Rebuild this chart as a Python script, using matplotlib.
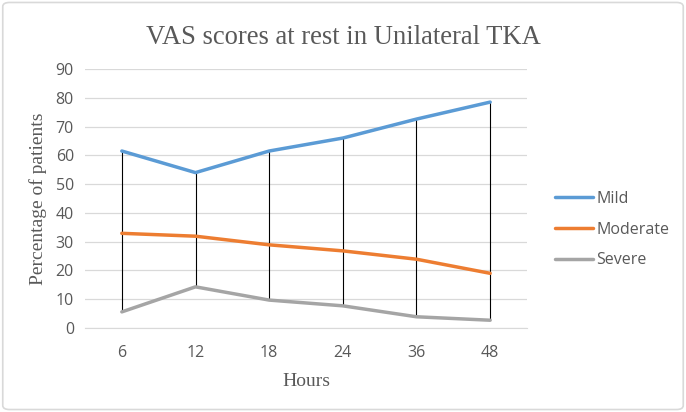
import matplotlib
matplotlib.use("Agg")
import matplotlib.pyplot as plt
from matplotlib.patches import FancyBboxPatch
import numpy as np

hours = ["6", "12", "18", "24", "36", "48"]
mild = [61.5, 54.0, 61.5, 66.0, 72.6, 78.5]
moderate = [32.9, 31.9, 28.9, 26.8, 23.9, 19.0]
severe = [5.6, 14.3, 9.7, 7.7, 3.9, 2.7]
yticks = [0, 10, 20, 30, 40, 50, 60, 70, 80, 90]

grey = "#595959"
fig = plt.figure(figsize=(6.86, 4.12), dpi=100)
ax = fig.add_axes([85/686, 1-328/412, (527-85)/686, (328-69)/412])

x = np.arange(len(hours))
data = np.array([mild, moderate, severe])
ax.vlines(x, data.min(axis=0), data.max(axis=0), color="black", lw=0.8, zorder=2)
ax.plot(x, mild, color="#5B9BD5", lw=2.5, label="Mild", zorder=3, solid_capstyle="round")
ax.plot(x, moderate, color="#ED7D31", lw=2.5, label="Moderate", zorder=3, solid_capstyle="round")
ax.plot(x, severe, color="#A5A5A5", lw=2.5, label="Severe", zorder=3, solid_capstyle="round")

ax.set_xlim(-0.5, len(hours)-0.5)
ax.set_ylim(0, 90)
ax.set_yticks(yticks)
ax.set_xticks(x)
ax.set_xticklabels(hours)
ax.grid(axis="y", color="#D9D9D9", lw=0.9)
ax.set_axisbelow(True)
for s in ["top", "right", "left"]:
    ax.spines[s].set_visible(False)
ax.spines["bottom"].set_color("#D9D9D9")
ax.tick_params(axis="y", length=0, labelsize=11.5, labelcolor=grey, pad=8)
ax.tick_params(axis="x", length=0, labelsize=11.5, labelcolor=grey, pad=12)
for lab in ax.get_xticklabels() + ax.get_yticklabels():
    lab.set_family("Open Sans")

ax.set_ylabel("Percentage of patients", family="Liberation Serif", fontsize=14, color=grey, labelpad=6)
ax.set_xlabel("Hours", family="Liberation Serif", fontsize=14, color=grey, labelpad=9)
fig.suptitle("VAS scores at rest in Unilateral TKA", family="Liberation Serif", fontsize=19.2,
             color=grey, y=0.94)

leg = ax.legend(loc="center left", bbox_to_anchor=(555/686, 1-229.5/412),
                bbox_transform=fig.transFigure, frameon=False, borderpad=0, borderaxespad=0,
                prop={"family": "Open Sans", "size": 11.5}, handlelength=2.35, handletextpad=0.25,
                labelspacing=0.92)
for t in leg.get_texts():
    t.set_color(grey)

fig.patches.append(FancyBboxPatch((0.004, 0.006), 0.992, 0.988, boxstyle="round,pad=0,rounding_size=0.01",
                                  transform=fig.transFigure, fill=False, edgecolor="#D9D9D9", lw=1.2))
fig.savefig("out.png", dpi=100)
